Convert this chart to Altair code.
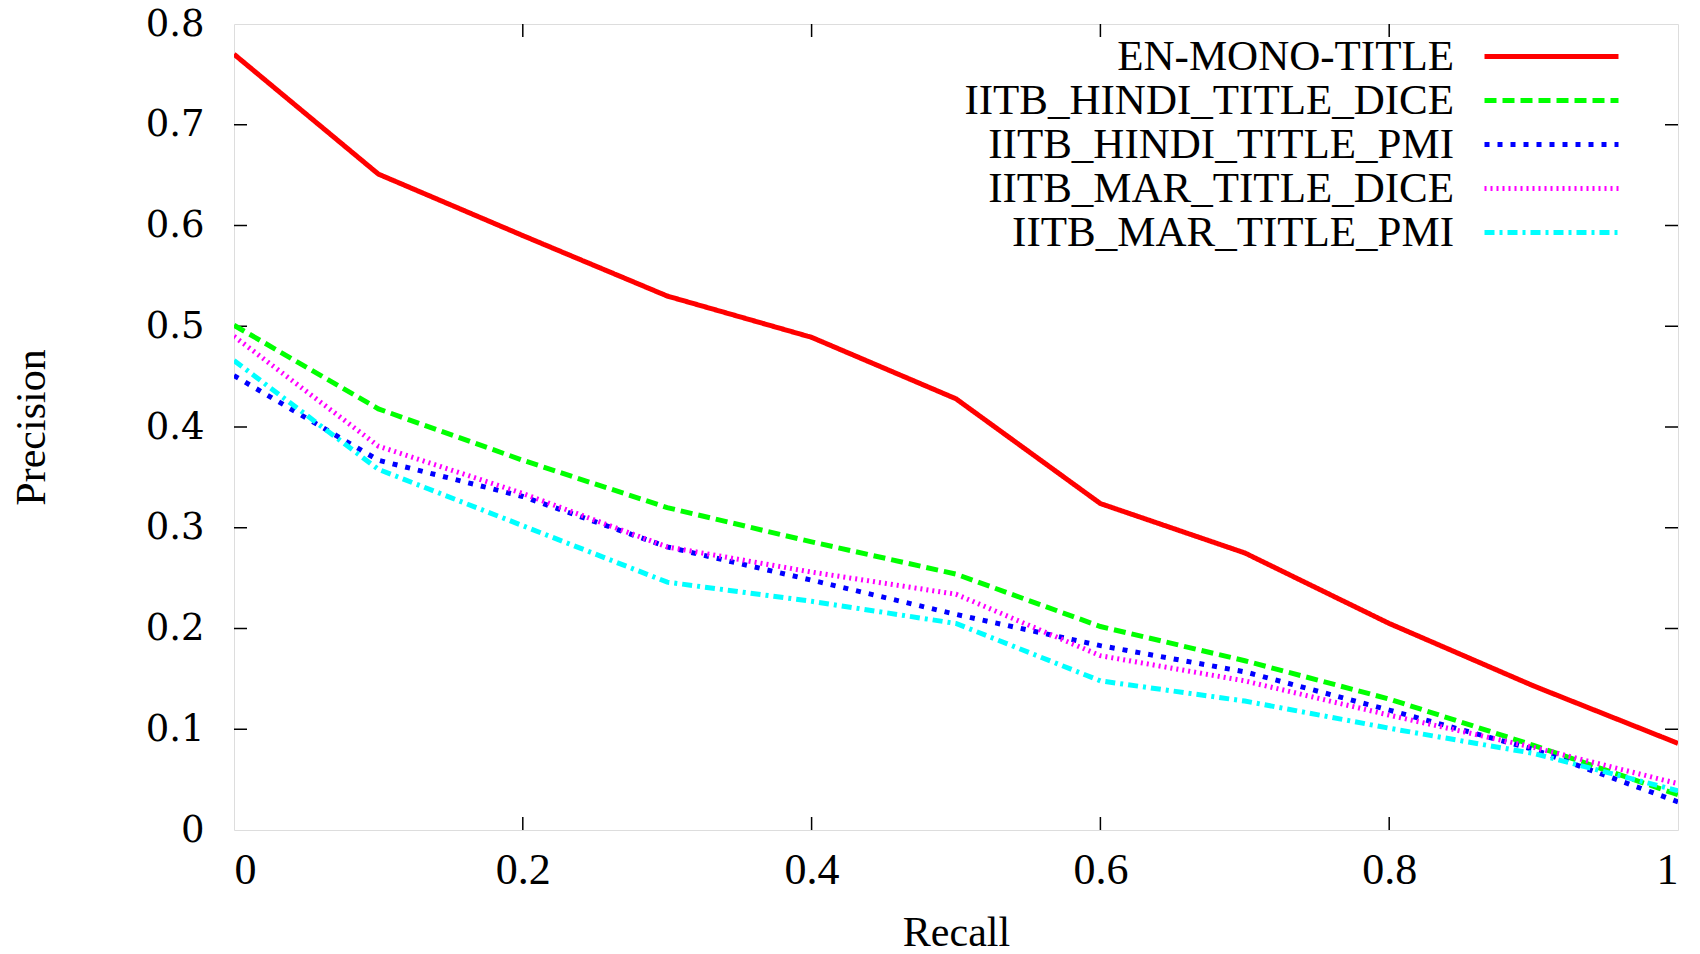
import altair as alt
import pandas as pd

# ---------------- data ----------------
recall = [0.0, 0.1, 0.2, 0.3, 0.4, 0.5, 0.6, 0.7, 0.8, 0.9, 1.0]
series_names = ["EN-MONO-TITLE", "IITB_HINDI_TITLE_DICE", "IITB_HINDI_TITLE_PMI",
                "IITB_MAR_TITLE_DICE", "IITB_MAR_TITLE_PMI"]
en_mono_title = [0.770, 0.651, 0.590, 0.530, 0.489, 0.428, 0.324, 0.275, 0.205, 0.143, 0.086]
hindi_dice = [0.501, 0.418, 0.367, 0.320, 0.286, 0.254, 0.202, 0.168, 0.130, 0.084, 0.035]
hindi_pmi = [0.451, 0.367, 0.331, 0.281, 0.248, 0.214, 0.183, 0.157, 0.119, 0.080, 0.028]
mar_dice = [0.490, 0.381, 0.334, 0.281, 0.256, 0.234, 0.173, 0.148, 0.114, 0.082, 0.046]
mar_pmi = [0.466, 0.358, 0.302, 0.246, 0.227, 0.205, 0.148, 0.128, 0.101, 0.076, 0.039]

y_tick_values = [0.1, 0.2, 0.3, 0.4, 0.5, 0.6, 0.7]
x_tick_values = [0.2, 0.4, 0.6, 0.8]
y_label_values = [0.0, 0.1, 0.2, 0.3, 0.4, 0.5, 0.6, 0.7, 0.8]
x_label_values = [0.0, 0.2, 0.4, 0.6, 0.8, 1.0]

colors = ["#ff0000", "#00ff00", "#0000ff", "#ff00ff", "#00ffff"]
dashes = [[1, 0], [12, 6], [5, 8], [2, 4], [10, 5, 3, 5]]

# ---------------- build table ----------------
rows = []
for name, vals in zip(series_names, [en_mono_title, hindi_dice, hindi_pmi, mar_dice, mar_pmi]):
    for r, p in zip(recall, vals):
        rows.append({"series": name, "Recall": r, "Precision": p})
df = pd.DataFrame(rows)

W, H = 1444, 806
TICK = 13

xscale = alt.Scale(domain=[0, 1], nice=False, zero=False)
yscale = alt.Scale(domain=[0, 0.8], nice=False, zero=False)

lines = alt.Chart(df).mark_line(strokeWidth=5, clip=True).encode(
    x=alt.X("Recall:Q", scale=xscale,
            axis=alt.Axis(title="Recall", values=x_label_values, format=".1~f",
                          ticks=False, tickSize=0, domain=False, grid=False,
                          labelFont="Liberation Serif", labelFontSize=44,
                          labelColor="black", labelPadding=18,
                          titleFont="Liberation Serif", titleFontSize=42,
                          titleFontWeight="normal", titleColor="black",
                          titlePadding=20)),
    y=alt.Y("Precision:Q", scale=yscale,
            axis=alt.Axis(title="Precision", values=y_label_values, format=".1~f",
                          ticks=False, tickSize=0, domain=False, grid=False,
                          labelFont="DejaVu Serif", labelFontSize=37,
                          labelColor="black", labelPadding=30,
                          titleFont="Liberation Serif", titleFontSize=42,
                          titleFontWeight="normal", titleColor="black",
                          titlePadding=92)),
    color=alt.Color("series:N", scale=alt.Scale(domain=series_names, range=colors),
                    sort=series_names,
                    legend=alt.Legend(title=None, orient="none", legendX=1296, legendY=11,
                                      symbolType="M-4,0H4", symbolSize=1122,
                                      symbolStrokeWidth=5, symbolOffset=0,
                                      labelFont="Liberation Serif", labelFontSize=43,
                                      labelColor="black", labelAlign="right",
                                      labelOffset={"expr": "-119"}, labelLimit=0,
                                      rowPadding=0, padding=0)),
    strokeDash=alt.StrokeDash("series:N", scale=alt.Scale(domain=series_names, range=dashes),
                              sort=series_names, legend=None),
    order=alt.Order("Recall:Q"),
)

ydf = pd.DataFrame({"t": y_tick_values})
xdf = pd.DataFrame({"t": x_tick_values})

left_ticks = alt.Chart(ydf).mark_rule(color="black", strokeWidth=1.5).encode(
    y=alt.Y("t:Q", scale=yscale), x=alt.value(0), x2=alt.value(TICK))
right_ticks = alt.Chart(ydf).mark_rule(color="black", strokeWidth=1.5).encode(
    y=alt.Y("t:Q", scale=yscale), x=alt.value(W - TICK), x2=alt.value(W))
bottom_ticks = alt.Chart(xdf).mark_rule(color="black", strokeWidth=1.5).encode(
    x=alt.X("t:Q", scale=xscale), y=alt.value(H), y2=alt.value(H - TICK))
top_ticks = alt.Chart(xdf).mark_rule(color="black", strokeWidth=1.5).encode(
    x=alt.X("t:Q", scale=xscale), y=alt.value(0), y2=alt.value(TICK))

chart = alt.layer(left_ticks, right_ticks, bottom_ticks, top_ticks, lines).properties(
    width=W, height=H,
    autosize=alt.AutoSizeParams(type="none"),
    padding={"left": 226, "top": 16, "right": 14, "bottom": 124},
).configure_view(stroke="black", strokeWidth=2).configure(background="white")

chart.save("out.html", embed_options={"renderer": "svg", "actions": False})
